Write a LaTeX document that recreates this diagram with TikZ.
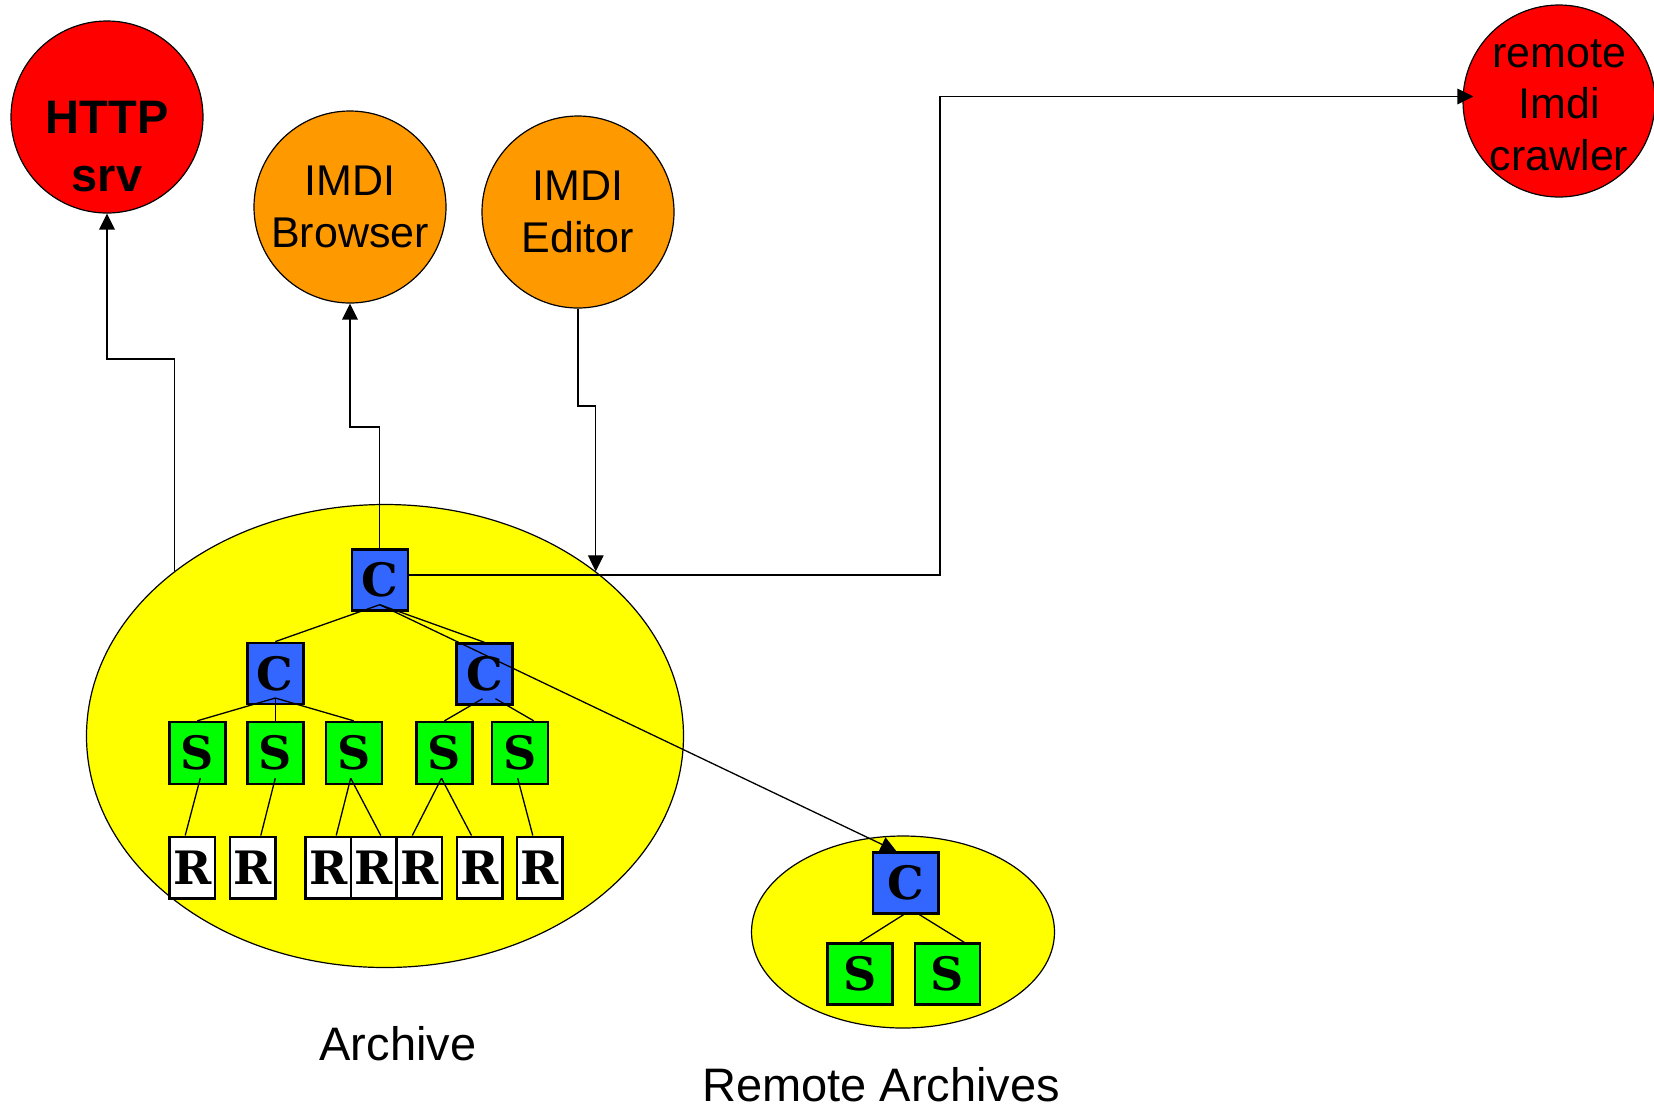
\documentclass[tikz,border=0pt]{standalone}
\usepackage{fontspec}
\setmainfont{Liberation Sans}
\newfontfamily\boxfont{DejaVu Serif}
\usetikzlibrary{arrows.meta,shapes.geometric}
\definecolor{srvRed}{HTML}{FF0000}
\definecolor{toolOrange}{HTML}{FF9900}
\definecolor{arcYellow}{HTML}{FFFF00}
\definecolor{cBlue}{HTML}{3366FF}
\definecolor{sGreen}{HTML}{00FF00}

\begin{document}
\begin{tikzpicture}[x=0.5pt,y=-0.5pt,
                    srvND/.style={circle,
                                  draw=black,
                                  line width=0.6pt,
                                  minimum size=96pt,
                                  inner sep=0pt,
                                  align=center,
                                  font=\fontsize{21.5}{25.75}\selectfont},
                    arcND/.style={ellipse,
                                  draw=black,
                                  line width=0.6pt,
                                  fill=arcYellow,
                                  inner sep=0pt},
                    boxND/.style={draw=black,
                                  line width=1.2pt,
                                  inner sep=0pt,
                                  minimum width=28pt,
                                  minimum height=30.5pt,
                                  font=\boxfont\bfseries\fontsize{23}{27}\selectfont},
                    cND/.style={boxND, fill=cBlue},
                    sND/.style={boxND, fill=sGreen, minimum height=31pt},
                    rND/.style={boxND, fill=white, minimum width=22.8pt, minimum height=30.8pt},
                    lblND/.style={anchor=base, font=\fontsize{23.5}{28}\selectfont},
                    conn/.style={line width=0.65pt},
                    arr/.style={conn, -{Triangle[length=8pt,width=7.8pt]}}]
            \useasboundingbox (0,0) rectangle (1654,1110);
            % the two archives
            \node[arcND, minimum width=298.5pt, minimum height=231.5pt](archive) at (385,736) {};
            \node[arcND, minimum width=151.5pt, minimum height=96pt](remote) at (903,932) {};
            \node[lblND](archiveLbl) at (398,1060) {Archive};
            \node[lblND](remoteLbl) at (881,1101) {Remote Archives};
            % services
            \node[srvND, fill=srvRed](http) at (107,117) {};
            \node[align=center, font=\bfseries\fontsize{23.5}{29}\selectfont](httpTxt) at (107,147) {HTTP\\srv};
            \node[srvND, fill=toolOrange](browser) at (350,207) {IMDI\\Browser};
            \node[srvND, fill=toolOrange](editor) at (578,212) {IMDI\\Editor};
            \node[srvND, fill=srvRed](crawler) at (1559,101) {};
            \node[align=center, font=\fontsize{21.5}{25.75}\selectfont](crawlerTxt) at (1559,105) {remote\\Imdi\\crawler};
            % local tree
            \node[cND](cTop) at (379.7,580) {C};
            \node[cND](cL)   at (275.3,673.3) {C};
            \node[cND](cR)   at (484.5,674) {C};
            \node[sND](S1) at (197.3,753) {S};
            \node[sND](S2) at (275.3,753) {S};
            \node[sND](S3) at (353.7,753) {S};
            \node[sND](S4) at (444.5,753) {S};
            \node[sND](S5) at (519.7,753) {S};
            \node[rND](R1) at (192.2,867.5) {R};
            \node[rND](R2) at (252.8,867.5) {R};
            \node[rND](R3) at (328.2,867.5) {R};
            \node[rND](R4) at (373.8,867.5) {R};
            \node[rND](R5) at (419.3,867.5) {R};
            \node[rND](R6) at (479.5,867.5) {R};
            \node[rND](R7) at (539.8,867.5) {R};
            % remote tree
            \node[cND, minimum width=32.8pt](rC) at (905.5,883) {C};
            \node[sND, minimum width=32.5pt, minimum height=30.5pt](rS1) at (859.8,974) {S};
            \node[sND, minimum width=32.5pt, minimum height=30.5pt](rS2) at (947.2,974) {S};
            \path[conn]
                ([yshift=3.5pt]cTop.south) edge (cL.north)
                                           edge (cR.north)
                ([yshift=3.5pt]cL.south)   edge (S1.north)
                                           edge (S2.north)
                                           edge (S3.north)
                ([xshift=-1pt,yshift=3.5pt]cR.south) edge (S4.north)
                ([xshift=5.5pt,yshift=3.5pt]cR.south) edge ([xshift=7pt]S5.north)
                ([xshift=1.5pt,yshift=3.5pt]S1.south) edge ([xshift=-3.5pt]R1.north)
                ([yshift=3.5pt]S2.south)   edge ([xshift=4pt]R2.north)
                ([xshift=-1.5pt,yshift=3.5pt]S3.south) edge ([xshift=4pt]R3.north)
                                                       edge ([xshift=3.5pt]R4.north)
                ([xshift=-1.5pt,yshift=3.5pt]S4.south) edge ([xshift=-3.5pt]R5.north)
                                                       edge ([xshift=-4pt]R6.north)
                ([xshift=-1pt,yshift=3.5pt]S5.south)   edge ([xshift=-3.5pt]R7.north)
                ([xshift=-1pt]rC.south)    edge (rS1.north)
                ([xshift=7pt]rC.south)     edge ([xshift=8.5pt]rS2.north)
                ;
            \draw[arr] ([yshift=3.5pt]cTop.south) -- ([xshift=-4.5pt]rC.north);
            % links to the services
            \coordinate (hBend) at (0,359);
            \coordinate (bBend) at (0,427);
            \coordinate (eBend) at (0,406);
            \coordinate (cBend) at (940,0);
            \coordinate (cEnd) at ([xshift=5.5pt,yshift=2.25pt]crawler.west);
            \draw[arr] (archive.142) |- (http.south |- hBend) -- (http.south);
            \draw[arr] (cTop.north) |- (browser.south |- bBend) -- (browser.south);
            \draw[arr] (editor.south) |- (archive.38 |- eBend) -- (archive.38);
            \draw[arr] ([yshift=2.5pt]cTop.east) -| (cBend |- cEnd) -- (cEnd);
\end{tikzpicture}
\end{document}
